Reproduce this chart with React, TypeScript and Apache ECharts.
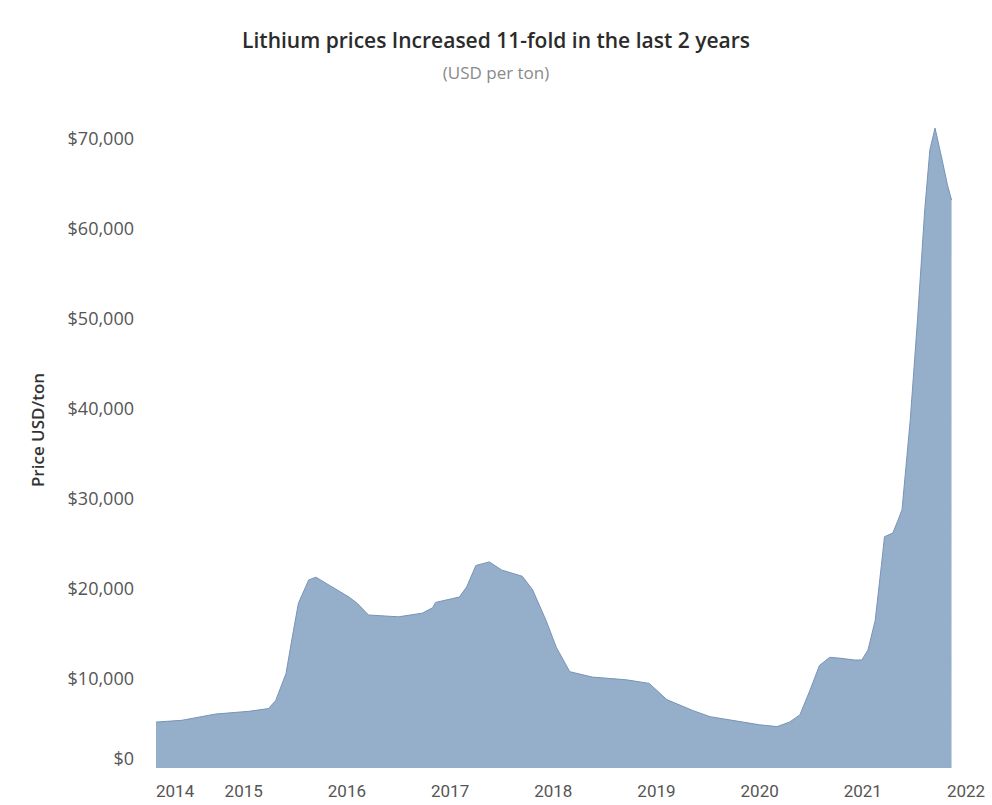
import React, { useEffect, useRef } from 'react';
import * as echarts from 'echarts';

const titleText = 'Lithium prices Increased 11-fold in the last 2 years';
const subtitleText = '(USD per ton)';
const yAxisTitle = 'Price USD/ton';

// decimal years
const dates = [
  2014.15, 2014.4, 2014.73, 2015.05, 2015.24, 2015.31, 2015.41, 2015.47, 2015.53, 2015.63,
  2015.7, 2015.83, 2016.02, 2016.1, 2016.21, 2016.5, 2016.73, 2016.83, 2016.86, 2017.09,
  2017.16, 2017.25, 2017.38, 2017.5, 2017.7, 2017.8, 2017.93, 2018.03, 2018.16, 2018.38,
  2018.71, 2018.93, 2019.1, 2019.35, 2019.52, 2019.84, 2020.0, 2020.17, 2020.29, 2020.39,
  2020.49, 2020.58, 2020.68, 2020.78, 2020.92, 2020.99, 2021.05, 2021.12, 2021.18, 2021.21,
  2021.29, 2021.34, 2021.38, 2021.46, 2021.53, 2021.6, 2021.65, 2021.7, 2021.77, 2021.82,
  2021.86,
];

// USD per ton
const prices = [
  5100, 5300, 6000, 6300, 6600, 7500, 10500, 14500, 18300, 20900,
  21200, 20300, 19000, 18300, 17000, 16800, 17200, 17800, 18400, 19000,
  20100, 22500, 22900, 22000, 21300, 19800, 16400, 13400, 10700, 10100,
  9800, 9400, 7600, 6400, 5700, 5100, 4800, 4600, 5100, 5900,
  8700, 11400, 12300, 12200, 12000, 12000, 13100, 16400, 22500, 25700,
  26100, 27500, 28700, 38700, 49800, 62000, 68700, 71100, 67500, 64800,
  63100,
];

const yearTicks = [2014, 2015, 2016, 2017, 2018, 2019, 2020, 2021, 2022];
const priceTicks = [0, 10000, 20000, 30000, 40000, 50000, 60000, 70000];

export default function App() {
  const ref = useRef<HTMLDivElement>(null);

  useEffect(() => {
    if (!ref.current) return;
    const chart = echarts.init(ref.current, null, { renderer: 'svg' });
    const xMin = dates[0];
    const labelFont = '"Open Sans", "Noto Sans", sans-serif';
    chart.setOption({
      animation: false,
      backgroundColor: '#ffffff',
      title: {
        text: titleText,
        subtext: subtitleText,
        left: 'center',
        top: 29,
        padding: 0,
        itemGap: 14,
        textStyle: {
          fontFamily: labelFont,
          fontWeight: 600,
          fontSize: 21,
          color: '#2b2b2b',
        },
        subtextStyle: {
          fontFamily: labelFont,
          fontSize: 17,
          color: '#8a8a8a',
        },
      },
      grid: { left: 156, right: 26, top: 120, bottom: 37, containLabel: false },
      xAxis: {
        type: 'value',
        min: xMin,
        max: 2022,
        axisLine: { show: false },
        axisTick: { show: false },
        splitLine: { show: false },
        axisLabel: {
          customValues: yearTicks.map((y) => Math.max(y, xMin)),
          formatter: (v: number) => String(Math.floor(v + 1e-6)),
          alignMinLabel: 'left',
          color: '#555555',
          fontFamily: 'Roboto, sans-serif',
          fontSize: 17,
          margin: 14,
        },
      },
      yAxis: {
        type: 'value',
        min: 0,
        max: 72000,
        axisLine: { show: false },
        axisTick: { show: false },
        splitLine: { show: false },
        axisLabel: {
          customValues: priceTicks,
          color: '#555555',
          fontFamily: labelFont,
          fontSize: 18,
          margin: 22,
          formatter: (v: number) =>
            v === 0 ? '{z|$0}' : '$' + v.toLocaleString('en-US'),
          rich: {
            z: {
              color: '#555555',
              fontFamily: labelFont,
              fontSize: 18,
              padding: [0, 0, 20, 0],
            },
          },
        },
      },
      series: [
        {
          type: 'line',
          data: dates.map((d, i) => [d, prices[i]]),
          symbol: 'none',
          lineStyle: { color: '#7893b8', width: 1 },
          areaStyle: { color: '#4E79A7', opacity: 0.6 },
        },
      ],
      graphic: [
        {
          type: 'text',
          x: 37,
          y: 430,
          rotation: Math.PI / 2,
          style: {
            text: yAxisTitle,
            align: 'center',
            verticalAlign: 'middle',
            fontFamily: labelFont,
            fontWeight: 600,
            fontSize: 17,
            fill: '#333333',
          },
        },
      ],
    });
    return () => chart.dispose();
  }, []);

  return (
    <div
      ref={ref}
      style={{ position: 'absolute', left: 0, top: 0, width: 992, height: 805 }}
    />
  );
}
